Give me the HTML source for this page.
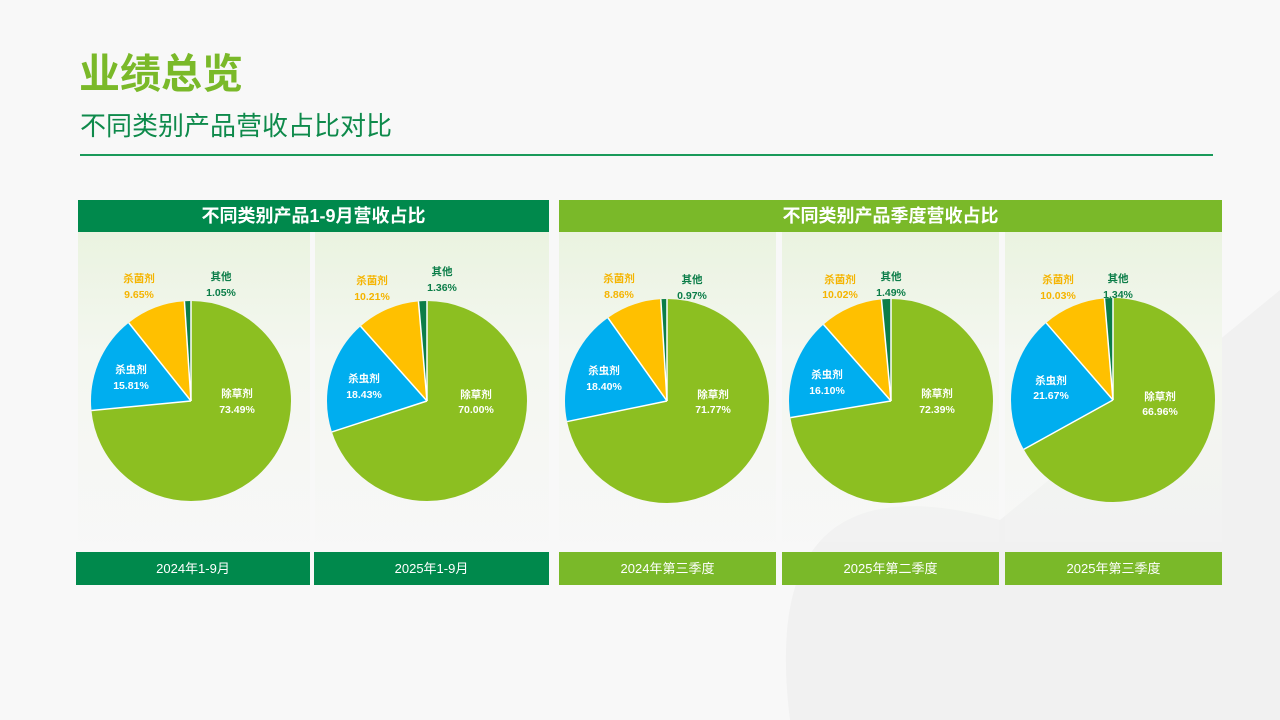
<!DOCTYPE html>
<html><head><meta charset="utf-8"><style>
body{margin:0;width:1280px;height:720px;overflow:hidden;background:#f8f8f8;font-family:"Liberation Sans","Noto Sans CJK SC",sans-serif;position:relative}
.a{position:absolute}
.t1{left:79px;top:40px;font-size:41px;font-weight:bold;color:#7ab929}
.t2{left:80px;top:106px;font-size:26px;color:#0e8a4b}
.hd{top:200px;height:32px;color:#fff;font-weight:bold;font-size:18px;text-align:center;line-height:32px}
.pn{top:232px;height:310px;background:linear-gradient(#eaf3e0,#f4f7f0 40%,rgba(245,245,245,0.2))}
.ft{top:552px;height:33px;color:#fff;font-size:13px;text-align:center;line-height:33px}
.dg{background:#00894c}.lg{background:#7ab929}
</style></head><body>
<svg class="a" style="left:0;top:0" width="1280" height="720">
<path d="M790 720 C770 560 820 470 1000 520 L1280 290 L1280 720Z" fill="#f1f1f1"/>
</svg>
<div class="a t1">业绩总览</div>
<div class="a t2">不同类别产品营收占比对比</div>
<div class="a" style="left:80px;top:154px;width:1133px;height:1.5px;background:#1a9a5a"></div>
<div class="a hd dg" style="left:78px;width:471px">不同类别产品1-9月营收占比</div>
<div class="a hd lg" style="left:559px;width:663px">不同类别产品季度营收占比</div>
<div class="a pn" style="left:78px;width:232px"></div>
<div class="a pn" style="left:315px;width:234px"></div>
<div class="a pn" style="left:559px;width:217px"></div>
<div class="a pn" style="left:782px;width:217px"></div>
<div class="a pn" style="left:1005px;width:217px"></div>
<svg class="a" style="left:0;top:0" width="1280" height="720" font-family="Liberation Sans,Noto Sans CJK SC,sans-serif" font-size="10.5" font-weight="bold" text-anchor="middle">
<g transform="translate(191,401) rotate(-90)">
<circle r="50" fill="none" stroke="#8cbf21" stroke-width="100" pathLength="100" stroke-dasharray="73.49 100"/>
<circle r="50" fill="none" stroke="#00aeef" stroke-width="100" pathLength="100" stroke-dasharray="15.81 100" stroke-dashoffset="-73.49"/>
<circle r="50" fill="none" stroke="#ffc000" stroke-width="100" pathLength="100" stroke-dasharray="9.65 100" stroke-dashoffset="-89.30"/>
<circle r="50" fill="none" stroke="#0b7d48" stroke-width="100" pathLength="100" stroke-dasharray="1.05 100" stroke-dashoffset="-98.95"/>
</g>
<g stroke="#fff" stroke-width="1.5" transform="translate(191,401)">
<line y2="-100"/><line y2="-100" transform="rotate(264.56)"/><line y2="-100" transform="rotate(321.48)"/><line y2="-100" transform="rotate(356.22)"/>
</g>
<g transform="translate(427,401) rotate(-90)">
<circle r="50" fill="none" stroke="#8cbf21" stroke-width="100" pathLength="100" stroke-dasharray="70 100"/>
<circle r="50" fill="none" stroke="#00aeef" stroke-width="100" pathLength="100" stroke-dasharray="18.43 100" stroke-dashoffset="-70"/>
<circle r="50" fill="none" stroke="#ffc000" stroke-width="100" pathLength="100" stroke-dasharray="10.21 100" stroke-dashoffset="-88.43"/>
<circle r="50" fill="none" stroke="#0b7d48" stroke-width="100" pathLength="100" stroke-dasharray="1.36 100" stroke-dashoffset="-98.64"/>
</g>
<g stroke="#fff" stroke-width="1.5" transform="translate(427,401)">
<line y2="-100"/><line y2="-100" transform="rotate(252)"/><line y2="-100" transform="rotate(318.35)"/><line y2="-100" transform="rotate(355.10)"/>
</g>
<g transform="translate(667,401) rotate(-90)">
<circle r="51" fill="none" stroke="#8cbf21" stroke-width="102" pathLength="100" stroke-dasharray="71.77 100"/>
<circle r="51" fill="none" stroke="#00aeef" stroke-width="102" pathLength="100" stroke-dasharray="18.40 100" stroke-dashoffset="-71.77"/>
<circle r="51" fill="none" stroke="#ffc000" stroke-width="102" pathLength="100" stroke-dasharray="8.86 100" stroke-dashoffset="-90.17"/>
<circle r="51" fill="none" stroke="#0b7d48" stroke-width="102" pathLength="100" stroke-dasharray="0.97 100" stroke-dashoffset="-99.03"/>
</g>
<g stroke="#fff" stroke-width="1.5" transform="translate(667,401)">
<line y2="-102"/><line y2="-102" transform="rotate(258.37)"/><line y2="-102" transform="rotate(324.61)"/><line y2="-102" transform="rotate(356.51)"/>
</g>
<g transform="translate(891,401) rotate(-90)">
<circle r="51" fill="none" stroke="#8cbf21" stroke-width="102" pathLength="100" stroke-dasharray="72.39 100"/>
<circle r="51" fill="none" stroke="#00aeef" stroke-width="102" pathLength="100" stroke-dasharray="16.10 100" stroke-dashoffset="-72.39"/>
<circle r="51" fill="none" stroke="#ffc000" stroke-width="102" pathLength="100" stroke-dasharray="10.02 100" stroke-dashoffset="-88.49"/>
<circle r="51" fill="none" stroke="#0b7d48" stroke-width="102" pathLength="100" stroke-dasharray="1.49 100" stroke-dashoffset="-98.51"/>
</g>
<g stroke="#fff" stroke-width="1.5" transform="translate(891,401)">
<line y2="-102"/><line y2="-102" transform="rotate(260.60)"/><line y2="-102" transform="rotate(318.56)"/><line y2="-102" transform="rotate(354.64)"/>
</g>
<g transform="translate(1113,400) rotate(-90)">
<circle r="51" fill="none" stroke="#8cbf21" stroke-width="102" pathLength="100" stroke-dasharray="66.96 100"/>
<circle r="51" fill="none" stroke="#00aeef" stroke-width="102" pathLength="100" stroke-dasharray="21.67 100" stroke-dashoffset="-66.96"/>
<circle r="51" fill="none" stroke="#ffc000" stroke-width="102" pathLength="100" stroke-dasharray="10.03 100" stroke-dashoffset="-88.63"/>
<circle r="51" fill="none" stroke="#0b7d48" stroke-width="102" pathLength="100" stroke-dasharray="1.34 100" stroke-dashoffset="-98.66"/>
</g>
<g stroke="#fff" stroke-width="1.5" transform="translate(1113,400)">
<line y2="-102"/><line y2="-102" transform="rotate(241.06)"/><line y2="-102" transform="rotate(319.07)"/><line y2="-102" transform="rotate(355.18)"/>
</g>
<g fill="#fff">
<text x="237" y="397">除草剂</text><text x="237" y="413">73.49%</text>
<text x="131" y="373">杀虫剂</text><text x="131" y="389">15.81%</text>
<text x="476" y="398">除草剂</text><text x="476" y="413">70.00%</text>
<text x="364" y="382">杀虫剂</text><text x="364" y="398">18.43%</text>
<text x="713" y="398">除草剂</text><text x="713" y="413">71.77%</text>
<text x="604" y="374">杀虫剂</text><text x="604" y="390">18.40%</text>
<text x="937" y="397">除草剂</text><text x="937" y="413">72.39%</text>
<text x="827" y="378">杀虫剂</text><text x="827" y="394">16.10%</text>
<text x="1160" y="400">除草剂</text><text x="1160" y="415">66.96%</text>
<text x="1051" y="384">杀虫剂</text><text x="1051" y="399">21.67%</text>
</g>
<g fill="#f5b400">
<text x="139" y="282">杀菌剂</text><text x="139" y="298">9.65%</text>
<text x="372" y="284">杀菌剂</text><text x="372" y="300">10.21%</text>
<text x="619" y="282">杀菌剂</text><text x="619" y="298">8.86%</text>
<text x="840" y="283">杀菌剂</text><text x="840" y="298">10.02%</text>
<text x="1058" y="283">杀菌剂</text><text x="1058" y="299">10.03%</text>
</g>
<g fill="#0b7d48">
<text x="221" y="280">其他</text><text x="221" y="296">1.05%</text>
<text x="442" y="275">其他</text><text x="442" y="291">1.36%</text>
<text x="692" y="283">其他</text><text x="692" y="299">0.97%</text>
<text x="891" y="280">其他</text><text x="891" y="296">1.49%</text>
<text x="1118" y="282">其他</text><text x="1118" y="298">1.34%</text>
</g>
</svg>
<div class="a ft dg" style="left:76px;width:234px">2024年1-9月</div>
<div class="a ft dg" style="left:314px;width:235px">2025年1-9月</div>
<div class="a ft lg" style="left:559px;width:217px">2024年第三季度</div>
<div class="a ft lg" style="left:782px;width:217px">2025年第二季度</div>
<div class="a ft lg" style="left:1005px;width:217px">2025年第三季度</div>
</body></html>
